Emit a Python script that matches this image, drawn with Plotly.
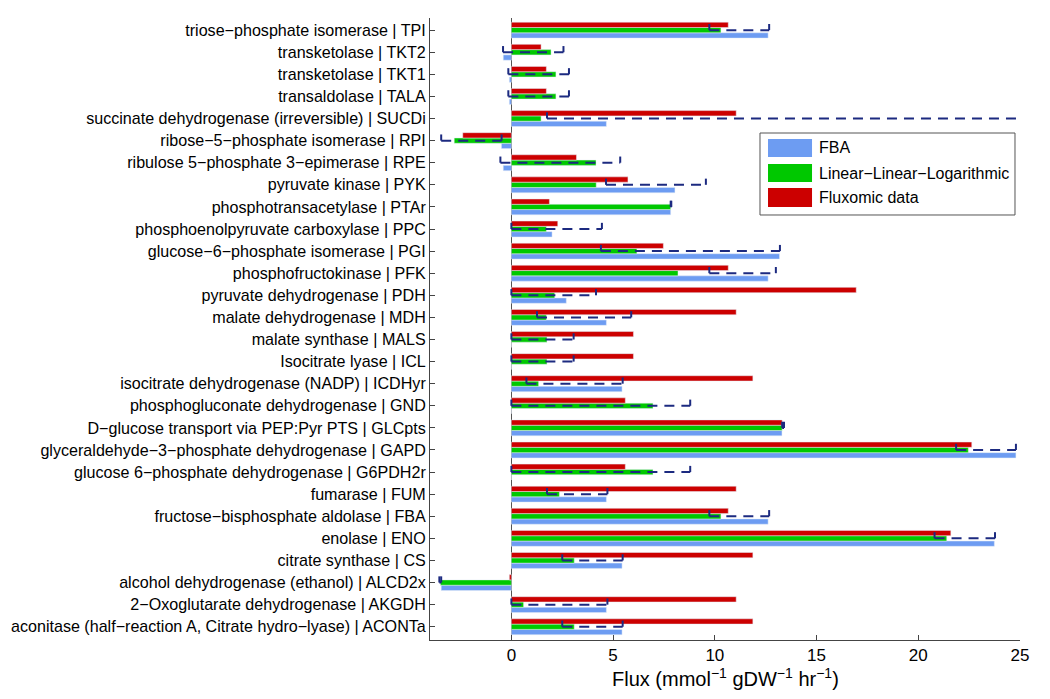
import plotly.graph_objects as go

# reactions, bottom to top
reactions = [
    "aconitase (half−reaction A, Citrate hydro−lyase) | ACONTa",
    "2−Oxoglutarate dehydrogenase | AKGDH",
    "alcohol dehydrogenase (ethanol) | ALCD2x",
    "citrate synthase | CS",
    "enolase | ENO",
    "fructose−bisphosphate aldolase | FBA",
    "fumarase | FUM",
    "glucose 6−phosphate dehydrogenase | G6PDH2r",
    "glyceraldehyde−3−phosphate dehydrogenase | GAPD",
    "D−glucose transport via PEP:Pyr PTS | GLCpts",
    "phosphogluconate dehydrogenase | GND",
    "isocitrate dehydrogenase (NADP) | ICDHyr",
    "Isocitrate lyase | ICL",
    "malate synthase | MALS",
    "malate dehydrogenase | MDH",
    "pyruvate dehydrogenase | PDH",
    "phosphofructokinase | PFK",
    "glucose−6−phosphate isomerase | PGI",
    "phosphoenolpyruvate carboxylase | PPC",
    "phosphotransacetylase | PTAr",
    "pyruvate kinase | PYK",
    "ribulose 5−phosphate 3−epimerase | RPE",
    "ribose−5−phosphate isomerase | RPI",
    "succinate dehydrogenase (irreversible) | SUCDi",
    "transaldolase | TALA",
    "transketolase | TKT1",
    "transketolase | TKT2",
    "triose−phosphate isomerase | TPI",
]

fba = [5.44, 4.67, -3.45, 5.44, 23.74, 12.62, 4.67, 0, 24.8, 13.3, 0, 5.44, 0, 0,
       4.67, 2.7, 12.62, 13.18, 2.0, 7.83, 8.04, -0.4, -0.49, 4.67, -0.1, -0.1, -0.4, 12.62]
lll = [3.09, 0.6, -3.49, 3.09, 21.4, 10.3, 2.36, 6.96, 22.46, 13.31, 6.96, 1.34, 1.75, 1.75,
       1.72, 2.13, 8.19, 6.17, 1.72, 7.83, 4.17, 4.16, -2.81, 1.46, 2.19, 2.19, 1.95, 10.3]
fluxomic = [11.87, 11.05, -0.1, 11.87, 21.6, 10.66, 11.05, 5.6, 22.63, 13.31, 5.6, 11.87, 6.0, 6.0,
            11.05, 16.95, 10.66, 7.47, 2.28, 1.87, 5.73, 3.2, -2.39, 11.05, 1.72, 1.72, 1.46, 10.66]

# flux variability range (dashed brackets)
range_lo = [2.5, 0, -3.54, 2.5, 20.8, 9.73, 1.75, 0, 21.86, 13.31, 0, 0.74, 0, 0,
            1.26, 0, 9.73, 4.4, 0, 7.83, 4.65, -0.54, -3.45, 1.75, -0.15, -0.15, -0.41, 9.73]
range_hi = [5.47, 4.72, -3.45, 5.47, 23.77, 12.67, 4.72, 8.79, 24.8, 13.4, 8.79, 5.47, 3.06, 3.06,
            5.89, 4.16, 13.0, 13.2, 4.45, 7.86, 9.56, 5.35, -0.48, 30, 2.83, 2.83, 2.56, 12.67]

series = ["FBA", "Linear−Linear−Logarithmic", "Fluxomic data"]
colors = ["#6d9cf2", "#00c800", "#cc0000"]

pos = list(range(len(reactions)))
navy = "#1c2a80"

fig = go.Figure()
for name, vals, c in zip(series, [fba, lll, fluxomic], colors):
    fig.add_trace(go.Bar(x=vals, y=pos, orientation="h", name=name, marker_color=c,
                         showlegend=False))

dx, dy, tx, ty = [], [], [], []
for i in pos:
    dx += [range_lo[i], range_hi[i], None]
    dy += [i, i, None]
    for v in (range_lo[i], range_hi[i]):
        tx += [v, v, None]
        ty += [i, i + 0.28, None]

fig.add_trace(go.Scatter(x=dx, y=dy, mode="lines", showlegend=False, hoverinfo="skip",
                         line=dict(color=navy, width=2, dash="10px,7px")))
fig.add_trace(go.Scatter(x=tx, y=ty, mode="lines", showlegend=False, hoverinfo="skip",
                         line=dict(color=navy, width=2)))

# legend box drawn by hand (matlab style big swatches)
fig.add_shape(type="rect", xref="paper", yref="paper", x0=0.5593, x1=0.9915, y0=0.6833, y1=0.8151,
              line=dict(color="#555", width=1), fillcolor="white", layer="above")
rows = [(0.7765, 0.8055), (0.7363, 0.7653), (0.6961, 0.7267)]
for (y0, y1), name, c in zip(rows, series, colors):
    fig.add_shape(type="rect", xref="paper", yref="paper", x0=0.5729, x1=0.6475, y0=y0, y1=y1,
                  line=dict(width=0), fillcolor=c, layer="above")
    fig.add_annotation(x=0.6559, y=(y0 + y1) / 2, xref="paper", yref="paper", text=name,
                       showarrow=False, xanchor="left", yanchor="middle", font=dict(size=16))

# x axis title
fig.add_annotation(x=0.5, y=-0.06, xref="paper", yref="paper", showarrow=False,
                   xanchor="center", yanchor="middle", font=dict(size=20),
                   text="Flux (mmol<sup>−1</sup> gDW<sup>−1</sup> hr<sup>−1</sup>)")

fig.update_layout(
    width=1042, height=691,
    margin=dict(l=422, r=30, t=10, b=59),
    plot_bgcolor="white", paper_bgcolor="white",
    barmode="group", bargap=0.28, bargroupgap=0,
    font=dict(family="Liberation Sans, Arial, sans-serif", size=17, color="black"),
    showlegend=False,
)
fig.update_xaxes(range=[-4, 25], tickvals=[0, 5, 10, 15, 20, 25], ticks="inside", ticklen=5,
                 showgrid=False, showline=True, linecolor="#444", tickcolor="#444",
                 zeroline=True, zerolinecolor="#555", zerolinewidth=1, automargin=False)
fig.update_yaxes(range=[-0.6, 27.55], tickvals=pos, ticktext=reactions, ticks="inside", ticklen=5,
                 showgrid=False, showline=True, linecolor="#444", tickcolor="#444", zeroline=False,
                 automargin=False, tickfont=dict(size=16.1))

fig.write_html("out.html")
